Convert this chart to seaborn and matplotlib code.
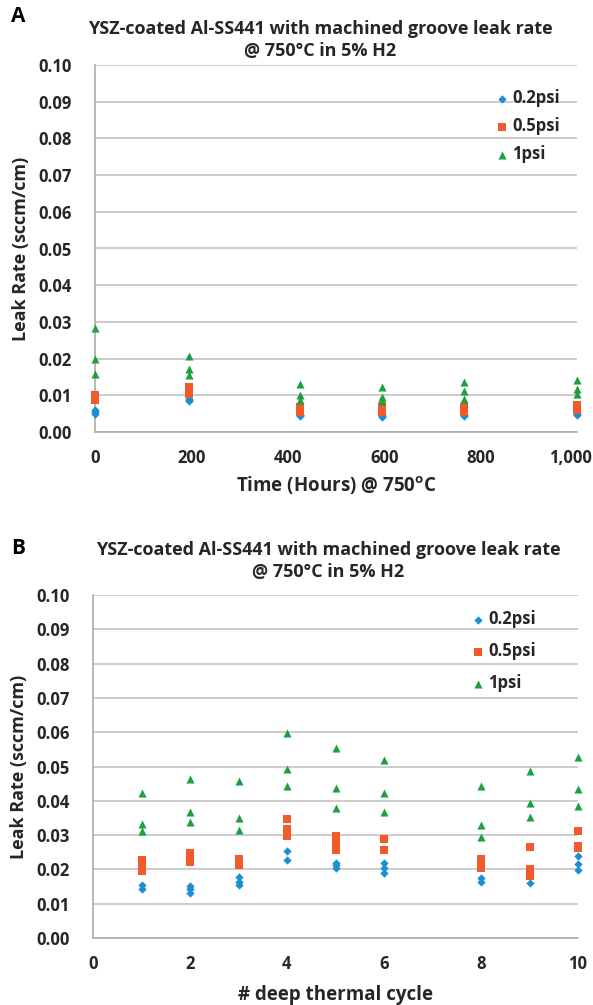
import pandas as pd
import numpy as np
import seaborn as sns
import matplotlib.pyplot as plt

# Panel A: leak rate vs. hours at 750C
hours = [0, 196, 425, 595, 765, 1000]
a_02 = [[0.0060, 0.0050, 0.0055], [0.0090, 0.0085, 0.0088], [0.0045, 0.0044, 0.0046],
        [0.0045, 0.0042, 0.0044], [0.0045, 0.0044, 0.0046], [0.0047, 0.0052, 0.0050]]
a_05 = [[0.0100, 0.0092, 0.0086], [0.0123, 0.0114, 0.0104], [0.0069, 0.0060, 0.0055],
        [0.0070, 0.0061, 0.0055], [0.0068, 0.0060, 0.0055], [0.0073, 0.0066, 0.0060]]
a_1 = [[0.0284, 0.0200, 0.0157], [0.0208, 0.0172, 0.0155], [0.0131, 0.0101, 0.0087],
       [0.0123, 0.0096, 0.0085], [0.0136, 0.0113, 0.0089], [0.0141, 0.0117, 0.0103]]
a_ticks = [0, 200, 400, 600, 800, 1000]
a_ticklabels = ['0', '200', '400', '600', '800', '1,000']

# Panel B: leak rate vs. number of deep thermal cycles
cycles = [1, 2, 3, 4, 5, 6, 8, 9, 10]
b_02 = [[0.0155, 0.0143], [0.0152, 0.0142, 0.0131], [0.0177, 0.0164, 0.0155],
        [0.0254, 0.0227], [0.0220, 0.0212, 0.0203], [0.0218, 0.0204, 0.0190],
        [0.0175, 0.0164], [0.0160], [0.0239, 0.0216, 0.0198]]
b_05 = [[0.0227, 0.0212, 0.0196], [0.0247, 0.0235, 0.0222], [0.0230, 0.0222, 0.0213],
        [0.0347, 0.0319, 0.0296], [0.0297, 0.0278, 0.0257], [0.0289, 0.0257],
        [0.0230, 0.0218, 0.0205], [0.0266, 0.0201, 0.0189, 0.0180], [0.0313, 0.0269, 0.0262]]
b_1 = [[0.0424, 0.0332, 0.0312], [0.0463, 0.0368, 0.0339], [0.0459, 0.0351, 0.0315],
       [0.0597, 0.0493, 0.0443], [0.0555, 0.0437, 0.0379], [0.0519, 0.0424, 0.0367],
       [0.0443, 0.0330, 0.0295], [0.0488, 0.0393, 0.0353], [0.0529, 0.0434, 0.0386]]
b_ticks = [0, 2, 4, 6, 8, 10]

series = ['0.2psi', '0.5psi', '1psi']
colors = {'0.2psi': '#1b8fd2', '0.5psi': '#f15a2b', '1psi': '#1fa040'}
markers = {'0.2psi': 'D', '0.5psi': 's', '1psi': '^'}
sizes = {'0.2psi': 18, '0.5psi': 38, '1psi': 34}


def to_frame(xs, groups):
    rows = []
    for name, vals in zip(series, groups):
        for x, ys in zip(xs, vals):
            for y in ys:
                rows.append((x, y, name))
    return pd.DataFrame(rows, columns=['x', 'rate', 'pressure'])


df_a = to_frame(hours, [a_02, a_05, a_1])
df_b = to_frame(cycles, [b_02, b_05, b_1])

sns.set_style('white')
plt.rcParams['font.family'] = ['Open Sans', 'DejaVu Sans']
plt.rcParams['font.weight'] = 'bold'
txt = '#262626'

fig = plt.figure(figsize=(5.93, 10.05), dpi=100)
ax_a = fig.add_axes([95 / 593, 1 - 432 / 1005, 482 / 593, 367 / 1005])
ax_b = fig.add_axes([93 / 593, 1 - 938 / 1005, 485 / 593, 343 / 1005])

for ax, df in [(ax_a, df_a), (ax_b, df_b)]:
    for name in series:
        sub = df[df['pressure'] == name]
        sns.scatterplot(data=sub, x='x', y='rate', ax=ax, color=colors[name],
                        marker=markers[name], s=sizes[name], linewidth=0,
                        label=name, zorder=3, clip_on=False)
    ax.set_ylim(0, 0.10)
    ax.set_yticks(np.arange(0, 0.101, 0.01))
    ax.set_yticklabels(['%.2f' % v for v in np.arange(0, 0.101, 0.01)])
    ax.yaxis.grid(True, color='#bfbfbf', linewidth=1.1)
    ax.xaxis.grid(False)
    ax.set_axisbelow(True)
    for s in ['top', 'right']:
        ax.spines[s].set_visible(False)
    for s in ['left', 'bottom']:
        ax.spines[s].set_color('#a6a6a6')
        ax.spines[s].set_linewidth(1.1)
    ax.tick_params(axis='both', length=0, labelsize=12, colors=txt)
    ax.tick_params(axis='y', pad=17)
    ax.tick_params(axis='x', pad=12)
    ax.set_ylabel('Leak Rate (sccm/cm)', fontsize=13, color=txt, fontweight='bold', labelpad=6)
    for t in ax.get_xticklabels() + ax.get_yticklabels():
        t.set_fontweight('bold')

ax_a.set_xlim(0, 1000)
ax_a.set_xticks(a_ticks)
# last label is nudged left like Excel does, so it is written as an annotation
ax_a.set_xticklabels(a_ticklabels[:-1] + [''], fontweight='bold')
ax_a.annotate(a_ticklabels[-1], xy=(a_ticks[-1], 0), xycoords=('data', 'axes fraction'),
              xytext=(-5, -12), textcoords='offset points', ha='center', va='top',
              fontsize=12, fontweight='bold', color=txt, annotation_clip=False)
ax_a.set_xlabel('Time (Hours) @ 750$^{\\mathregular{o}}$C', fontsize=13.5, color=txt,
                fontweight='bold', labelpad=6)

ax_b.set_xlim(0, 10)
ax_b.set_xticks(b_ticks)
ax_b.set_xticklabels([str(t) for t in b_ticks], fontweight='bold')
ax_b.set_xlabel('# deep thermal cycle', fontsize=13.5, color=txt, fontweight='bold', labelpad=9)

leg_a = ax_a.legend(loc='upper left', bbox_to_anchor=(0.795, 0.975), frameon=False,
                    fontsize=12, handletextpad=0.15, labelspacing=0.6, handlelength=1.0)
leg_b = ax_b.legend(loc='upper left', bbox_to_anchor=(0.745, 1.0), frameon=False,
                    fontsize=12, handletextpad=0.15, labelspacing=0.85, handlelength=1.0)
for leg in [leg_a, leg_b]:
    for t in leg.get_texts():
        t.set_color(txt)
        t.set_fontweight('bold')

title = 'YSZ-coated Al-SS441 with machined groove leak rate\n@ 750°C in 5% H2'
fig.text(320 / 593, 1 - 40 / 1005, title, ha='center', va='center', fontsize=13,
         color=txt, fontweight='bold', linespacing=1.3)
fig.text(328 / 593, 1 - 561 / 1005, title, ha='center', va='center', fontsize=13,
         color=txt, fontweight='bold', linespacing=1.3)
fig.text(18 / 593, 1 - 17 / 1005, 'A', ha='center', va='center', fontsize=15,
         color='#000000', fontweight='bold')
fig.text(18 / 593, 1 - 549 / 1005, 'B', ha='center', va='center', fontsize=15,
         color='#000000', fontweight='bold')

fig.savefig('out.png', dpi=100)
